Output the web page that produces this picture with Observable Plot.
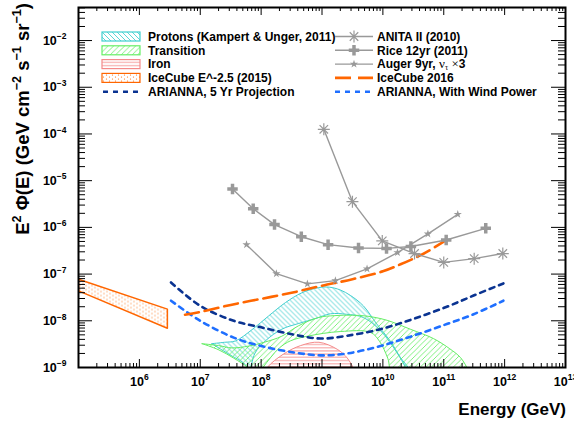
<!DOCTYPE html>
<html><head><meta charset="utf-8">
<script src="https://cdn.jsdelivr.net/npm/d3@7"></script>
<script src="https://cdn.jsdelivr.net/npm/@observablehq/plot@0.6"></script>
<style>
body{margin:0;background:#fff;}
#chart{width:574px;height:421px;}
</style></head><body>
<svg width="0" height="0" style="position:absolute">
<defs>
<pattern id="hatchCyan" patternUnits="userSpaceOnUse" width="5" height="5">
<path d="M-1,-1 L6,6 M-1,4 L1,6 M4,-1 L6,1" stroke="#3fcfcf" stroke-width="0.85" fill="none"/></pattern>
<pattern id="hatchGreen" patternUnits="userSpaceOnUse" width="5.5" height="5.5">
<path d="M-1,6.5 L6.5,-1 M-1,1 L1,-1 M4.5,6.5 L6.5,4.5" stroke="#66ee66" stroke-width="0.85" fill="none"/></pattern>
<pattern id="hatchRed" patternUnits="userSpaceOnUse" width="6" height="3.2">
<path d="M0,1.6 L6,1.6" stroke="#f48a8a" stroke-width="0.9" fill="none"/></pattern>
<pattern id="dotsOrange" patternUnits="userSpaceOnUse" width="6" height="4">
<circle cx="1.5" cy="1" r="0.6" fill="#ff6600"/><circle cx="4.5" cy="3" r="0.6" fill="#ff6600"/></pattern>
</defs></svg>
<div id="chart"></div>
<script>
// ---------- data (log10 of energy in GeV, log10 of E^2 flux) ----------
const anitaLogE    = [9.03, 9.50, 9.99, 10.52, 11.00, 11.50, 11.97];
const anitaLogF    = [-3.90, -5.45, -6.29, -6.56, -6.75, -6.67, -6.56];
const riceLogE     = [7.53, 7.87, 8.22, 8.66, 9.10, 9.60, 10.06, 10.46, 11.04, 11.69];
const riceLogF     = [-5.18, -5.60, -5.94, -6.20, -6.37, -6.44, -6.45, -6.41, -6.27, -6.02];
const augerLogE    = [7.76, 8.25, 8.76, 9.22, 9.74, 10.24, 10.74, 11.23];
const augerLogF    = [-6.37, -6.99, -7.21, -7.14, -6.89, -6.54, -6.14, -5.72];
const ic16LogE     = [6.75, 7.00, 7.50, 8.00, 8.50, 9.00, 9.50, 10.00, 10.29, 10.50, 10.70, 11.02];
const ic16LogF     = [-7.87, -7.81, -7.66, -7.53, -7.40, -7.25, -7.11, -6.94, -6.79, -6.67, -6.54, -6.29];
const ariLogE      = [6.52, 7.00, 7.55, 8.00, 8.55, 8.98, 9.41, 9.96, 10.50, 11.05, 11.49, 11.98];
const ari5LogF     = [-7.18, -7.68, -8.00, -8.14, -8.30, -8.38, -8.32, -8.18, -7.96, -7.70, -7.46, -7.20];
const ariWindLogF  = [-7.57, -8.00, -8.36, -8.54, -8.68, -8.74, -8.70, -8.54, -8.32, -8.07, -7.86, -7.57];
// bands: [logE, logF] outlines
const protonUpper  = [[7.19,-8.49],[7.40,-8.46],[7.58,-8.43],[7.85,-8.19],[8.12,-7.90],[8.40,-7.61],[8.67,-7.40],[8.94,-7.29],[9.12,-7.28],[9.30,-7.34],[9.47,-7.46],[9.68,-7.68],[9.90,-8.07],[10.12,-8.43],[10.29,-8.79],[10.42,-9.01],[10.48,-9.2]];
const protonLower  = [[7.19,-8.49],[7.45,-8.70],[7.74,-8.94],[7.80,-9.10],[7.90,-8.69],[8.07,-8.43],[8.34,-8.18],[8.61,-8.06],[8.90,-7.95],[9.14,-7.85],[9.40,-7.86],[9.68,-7.93],[9.96,-8.21],[10.23,-8.68],[10.37,-9.0],[10.42,-9.2]];
const transUpper   = [[7.03,-8.49],[7.30,-8.53],[7.52,-8.58],[7.80,-8.54],[8.05,-8.46],[8.34,-8.33],[8.61,-8.11],[8.94,-7.93],[9.20,-7.89],[9.50,-7.88],[9.74,-7.90],[10.07,-7.99],[10.45,-8.18],[10.83,-8.38],[11.10,-8.60],[11.27,-8.78],[11.38,-9.0],[11.44,-9.2]];
const transLower   = [[7.03,-8.49],[7.30,-8.62],[7.55,-8.80],[7.78,-9.0],[7.92,-9.2],[8.03,-9.0],[8.16,-8.78],[8.30,-8.58],[8.48,-8.43],[8.76,-8.33],[9.30,-8.23],[9.80,-8.25],[9.95,-8.45],[10.08,-8.8],[10.18,-9.2]];
const ironUpper    = [[8.02,-9.2],[8.10,-9.0],[8.37,-8.71],[8.65,-8.53],[8.95,-8.46],[9.25,-8.61],[9.41,-8.79],[9.52,-9.03],[9.56,-9.2]];
const ironLower    = [[9.56,-9.6],[8.02,-9.6]];
const ic15Band     = [[5.0,-7.11],[6.46,-7.75],[6.46,-8.16],[5.0,-7.36]];
// axis ticks
const xTickExps = [6, 7, 8, 9, 10, 11, 12, 13];
const yTickExps = [-9, -8, -7, -6, -5, -4, -3, -2];
const minorMult = [2, 3, 4, 5, 6, 7, 8, 9];
// legend
const legendLeft  = ["Protons (Kampert & Unger, 2011)", "Transition", "Iron", "IceCube E^-2.5 (2015)", "ARIANNA, 5 Yr Projection"];
const legendRight = ["ANITA II (2010)", "Rice 12yr (2011)", "Auger 9yr, ", "IceCube 2016", "ARIANNA, With Wind Power"];

// ---------- helpers ----------
const pts = (le, lf) => le.map((e, i) => ({E: 10 ** e, F: 10 ** lf[i]}));
const poly = (upper, lower) => {
  const a = upper.concat(lower.slice().reverse());
  a.push(a[0]);
  return a.map(([e, f]) => ({E: 10 ** e, F: 10 ** f}));
};
const closed = (arr) => arr.concat([arr[0]]).map(([e, f]) => ({E: 10 ** e, F: 10 ** f}));

const W = 574, H = 421, mL = 78, mR = 9, mT = 7, mB = 54;
const FW = W - mL - mR, FH = H - mT - mB;
const xMajor = xTickExps.filter(e => e < 13).map(e => 10 ** e);
const xMinor = d3.range(5, 13).flatMap(d => minorMult.map(m => m * 10 ** d));
const yMajor = yTickExps.map(e => 10 ** e);
const yMinor = d3.range(-9, -1).flatMap(d => minorMult.map(m => m * 10 ** d)).filter(v => v < 0.051);

const grey = "#999999";
const asterisk = {draw(ctx, size) {
  const r = Math.sqrt(size / Math.PI), d = r * Math.SQRT1_2;
  ctx.moveTo(-r, 0); ctx.lineTo(r, 0); ctx.moveTo(0, -r); ctx.lineTo(0, r);
  ctx.moveTo(-d, -d); ctx.lineTo(d, d); ctx.moveTo(-d, d); ctx.lineTo(d, -d);
}};

const anita = pts(anitaLogE, anitaLogF), rice = pts(riceLogE, riceLogF), auger = pts(augerLogE, augerLogF);
const ic16 = pts(ic16LogE, ic16LogF), ari5 = pts(ariLogE, ari5LogF), ariW = pts(ariLogE, ariWindLogF);

const plot = Plot.plot({
  width: W, height: H, marginLeft: mL, marginRight: mR, marginTop: mT, marginBottom: mB,
  style: {background: "white", fontFamily: "Liberation Sans, Arial, Helvetica, sans-serif", overflow: "visible"},
  x: {type: "log", domain: [1e5, 1e13], axis: null},
  y: {type: "log", domain: [1e-9, 0.051], axis: null},
  marks: [
    Plot.line(poly(protonUpper, protonLower), {x: "E", y: "F", fill: "url(#hatchCyan)", stroke: "#3fcfcf", strokeWidth: 1, curve: "catmull-rom", clip: true}),
    Plot.line(poly(transUpper, transLower), {x: "E", y: "F", fill: "url(#hatchGreen)", stroke: "#66ee66", strokeWidth: 1, curve: "catmull-rom", clip: true}),
    Plot.line(poly(ironUpper, ironLower), {x: "E", y: "F", fill: "url(#hatchRed)", stroke: "#f48a8a", strokeWidth: 1, curve: "catmull-rom", clip: true}),
    Plot.line(closed(ic15Band), {x: "E", y: "F", fill: "url(#dotsOrange)", stroke: "#ff6600", strokeWidth: 1.5, clip: true}),
    Plot.line(ari5, {x: "E", y: "F", stroke: "#0a3391", strokeWidth: 2.6, strokeDasharray: "5,5", curve: "catmull-rom"}),
    Plot.line(ariW, {x: "E", y: "F", stroke: "#1f6fff", strokeWidth: 2.6, strokeDasharray: "5,5", curve: "catmull-rom"}),
    Plot.line(ic16, {x: "E", y: "F", stroke: "#ff6600", strokeWidth: 2.6, strokeDasharray: "14,6", curve: "catmull-rom"}),
    Plot.line(anita, {x: "E", y: "F", stroke: grey, strokeWidth: 1.4}),
    Plot.dot(anita, {x: "E", y: "F", symbol: asterisk, r: 6, stroke: grey, fill: "none", strokeWidth: 1.2}),
    Plot.line(rice, {x: "E", y: "F", stroke: grey, strokeWidth: 1.4}),
    Plot.dot(rice, {x: "E", y: "F", symbol: "cross", r: 4.4, fill: grey, stroke: "none"}),
    Plot.line(auger, {x: "E", y: "F", stroke: grey, strokeWidth: 1.4}),
    Plot.dot(auger, {x: "E", y: "F", symbol: "star", r: 2.6, fill: grey, stroke: "none"}),
    // ticks (inward, all four sides)
    Plot.ruleX(xMajor, {x: d => d, insetTop: FH - 8, stroke: "black"}),
    Plot.ruleX(xMajor, {x: d => d, insetBottom: FH - 8, stroke: "black"}),
    Plot.ruleX(xMinor, {x: d => d, insetTop: FH - 4, stroke: "black"}),
    Plot.ruleX(xMinor, {x: d => d, insetBottom: FH - 4, stroke: "black"}),
    Plot.ruleY(yMajor, {y: d => d, insetRight: FW - 14, stroke: "black"}),
    Plot.ruleY(yMajor, {y: d => d, insetLeft: FW - 14, stroke: "black"}),
    Plot.ruleY(yMinor, {y: d => d, insetRight: FW - 7, stroke: "black"}),
    Plot.ruleY(yMinor, {y: d => d, insetLeft: FW - 7, stroke: "black"}),
    Plot.frame({stroke: "black", strokeWidth: 2}),
    // tick labels
    Plot.text(xTickExps, {x: d => 10 ** d, frameAnchor: "bottom", dy: 18, text: d => "10^{" + d + "}", fontSize: 12.5, fontWeight: "bold", fill: "black", textAnchor: "middle"}),
    Plot.text(yTickExps, {y: d => 10 ** d, frameAnchor: "left", dx: -12, text: d => "10^{\u2212" + (-d) + "}", fontSize: 12.5, fontWeight: "bold", fill: "black", textAnchor: "end"})
  ]
});
document.getElementById("chart").appendChild(plot);

const NS = "http://www.w3.org/2000/svg";
function rich(el, str, baseSize) {
  while (el.firstChild) el.removeChild(el.firstChild);
  const parts = str.split(/(\^\{[^}]*\}|_\{[^}]*\})/);
  let cur = 0;
  for (const p of parts) {
    if (!p) continue;
    const ts = document.createElementNS(NS, "tspan");
    let target = 0, txt = p;
    if (p.startsWith("^{")) { target = -0.42 * baseSize; txt = p.slice(2, -1); ts.setAttribute("font-size", 0.68 * baseSize); }
    else if (p.startsWith("_{")) { target = 0.25 * baseSize; txt = p.slice(2, -1); ts.setAttribute("font-size", 0.68 * baseSize); }
    ts.setAttribute("dy", target - cur);
    cur = target;
    ts.textContent = txt;
    el.appendChild(ts);
  }
}
d3.select(plot).selectAll("text").each(function() {
  const t = this.textContent;
  if (t.includes("^{")) rich(this, t, 12.5);
});

const svg = d3.select(plot);
// axis titles
svg.append("text").attr("x", 566).attr("y", 415).attr("text-anchor", "end")
  .attr("font-size", 17).attr("font-weight", "bold").attr("fill", "black").text("Energy (GeV)");
const yt = svg.append("text").attr("transform", "translate(29,3) rotate(-90)").attr("text-anchor", "end")
  .attr("font-size", 18.5).attr("font-weight", "bold").attr("fill", "black");
rich(yt.node(), "E^{2} \u03A6(E) (GeV cm^{\u22122} s^{\u22121} sr^{\u22121})", 18.5);

// legend
const rowsY = [36.5, 50.3, 64.1, 77.9, 91.7];
const lg = svg.append("g").attr("font-size", 12).attr("font-weight", "bold").attr("fill", "black").attr("text-anchor", "start");
const boxes = [["url(#hatchCyan)", "#3fcfcf"], ["url(#hatchGreen)", "#66ee66"], ["url(#hatchRed)", "#f48a8a"], ["url(#dotsOrange)", "#ff6600"]];
boxes.forEach(([f, s], i) => {
  lg.append("rect").attr("x", 102).attr("y", rowsY[i] - 4.5).attr("width", 38).attr("height", 9)
    .attr("fill", f).attr("stroke", s).attr("stroke-width", 1.2);
});
lg.append("line").attr("x1", 102).attr("x2", 140).attr("y1", rowsY[4]).attr("y2", rowsY[4])
  .attr("stroke", "#0a3391").attr("stroke-width", 2.6).attr("stroke-dasharray", "5,5").attr("stroke-dashoffset", -1);
legendLeft.forEach((t, i) => lg.append("text").attr("x", 148).attr("y", rowsY[i] + 4.3).text(t));

const sym = [asterisk, d3.symbolCross, d3.symbolStar];
const symR = [6, 4.4, 2.6];
[0, 1, 2].forEach(i => {
  lg.append("line").attr("x1", 335).attr("x2", 373).attr("y1", rowsY[i]).attr("y2", rowsY[i]).attr("stroke", grey).attr("stroke-width", 1.4);
  const p = lg.append("path").attr("transform", `translate(354,${rowsY[i]})`).attr("d", d3.symbol(sym[i], Math.PI * symR[i] ** 2)());
  if (i === 0) p.attr("fill", "none").attr("stroke", grey).attr("stroke-width", 1.2); else p.attr("fill", grey);
});
lg.append("line").attr("x1", 335).attr("x2", 373).attr("y1", rowsY[3]).attr("y2", rowsY[3])
  .attr("stroke", "#ff6600").attr("stroke-width", 2.6).attr("stroke-dasharray", "16,7");
lg.append("line").attr("x1", 335).attr("x2", 373).attr("y1", rowsY[4]).attr("y2", rowsY[4])
  .attr("stroke", "#1f6fff").attr("stroke-width", 2.6).attr("stroke-dasharray", "5,5");
legendRight.forEach((t, i) => {
  const te = lg.append("text").attr("x", 377).attr("y", rowsY[i] + 4.3).text(t);
  if (i === 2) {
    te.append("tspan").attr("font-family", "Liberation Serif, serif").attr("font-weight", "normal").attr("font-size", 13).text("\u03BD");
    te.append("tspan").attr("font-family", "Liberation Serif, serif").attr("font-weight", "normal").attr("font-size", 8).attr("dy", 2).text("\u03C4");
    te.append("tspan").attr("dy", -2).attr("font-family", "Liberation Serif, serif").attr("font-weight", "normal").attr("font-size", 13).text(" \u00D7");
    te.append("tspan").text("3");
  }
});
</script>
</body></html>
